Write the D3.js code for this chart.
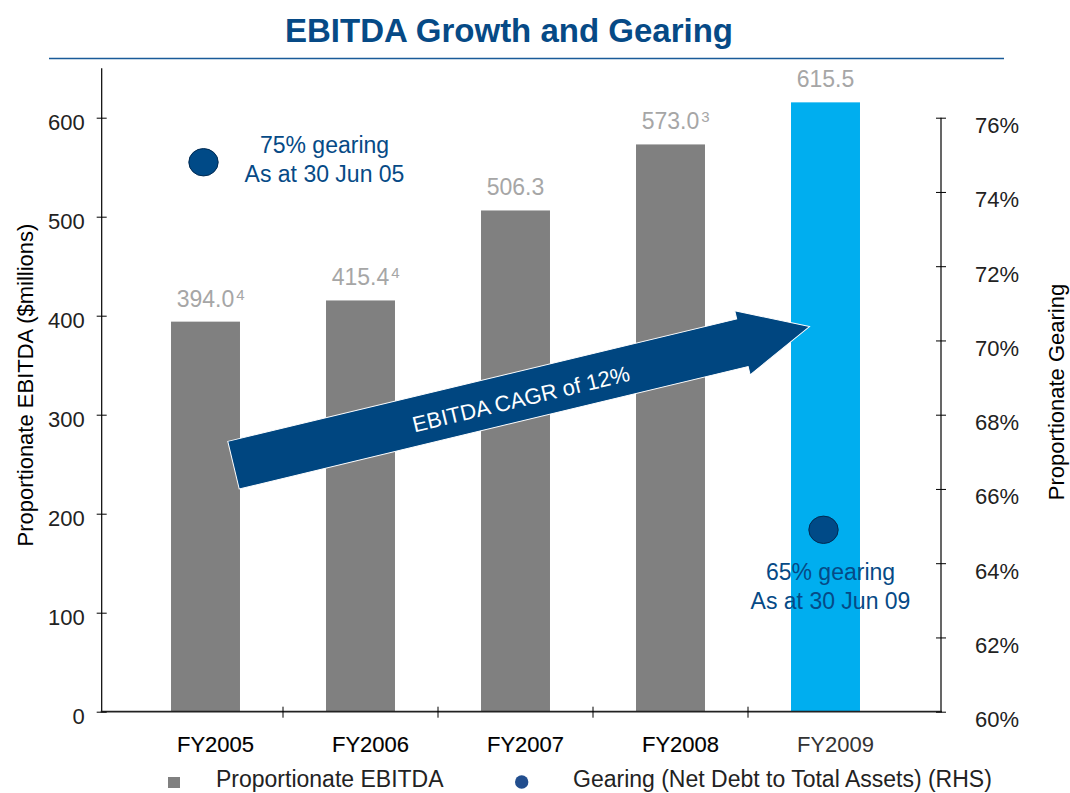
<!DOCTYPE html>
<html>
<head>
<meta charset="utf-8">
<script src="https://d3js.org/d3.v7.min.js"></script>
<style>
  body { margin: 0; background: #fff; }
  svg { display: block; font-family: "Liberation Sans", Arial, sans-serif; }
</style>
</head>
<body>
<svg id="chart" width="1070" height="793"></svg>
<script>
// data
var years = ["FY2005", "FY2006", "FY2007", "FY2008", "FY2009"];
var ebitda = [394.0, 415.4, 506.3, 573.0, 615.5];
var footnotes = ["4", "4", "", "3", ""];
var leftTicks = [0, 100, 200, 300, 400, 500, 600];
var rightTicks = [0.60, 0.62, 0.64, 0.66, 0.68, 0.70, 0.72, 0.74, 0.76];
var gearingYears = ["FY2005", "FY2009"];
var gearing = [0.748, 0.649];
var gearingNotes = [["75% gearing", "As at 30 Jun 05"], ["65% gearing", "As at 30 Jun 09"]];
var cagrLabel = "EBITDA CAGR of 12%";
var cagrFrom = 249, cagrTo = 389;   // arrow ends, in $m on left axis

var svg = d3.select("#chart"),
    left = 101.7, right = 941, bottom = 711.7;

var x = d3.scaleBand()
    .domain(years)
    .range([128, 903])
    .paddingInner(0.555)
    .paddingOuter(0.2775);

var yL = d3.scaleLinear().domain([0, 650]).range([bottom, bottom - 650 * 0.99]);
var yR = d3.scaleLinear().domain([0.60, 0.76]).range([bottom, yL(600)]);

var blue = "#064a86";

// title
svg.append("text")
    .attr("x", 509).attr("y", 42)
    .attr("text-anchor", "middle")
    .attr("font-size", 33).attr("font-weight", "bold")
    .attr("fill", blue)
    .text("EBITDA Growth and Gearing");
svg.append("line")
    .attr("x1", 49).attr("x2", 1004).attr("y1", 58.5).attr("y2", 58.5)
    .attr("stroke", "#1a5b99").attr("stroke-width", 1.5);

// bars
var bars = svg.append("g");
bars.selectAll("rect")
    .data(years)
    .join("rect")
    .attr("x", function (d) { return x(d); })
    .attr("width", x.bandwidth())
    .attr("y", function (d, i) { return yL(ebitda[i]); })
    .attr("height", function (d, i) { return bottom - yL(ebitda[i]); })
    .attr("fill", function (d, i) { return i == years.length - 1 ? "#00aeef" : "#808080"; });

// value labels + superscripts
years.forEach(function (d, i) {
    var cx = x(d) + x.bandwidth() / 2,
        cy = yL(ebitda[i]) - 15;
    var t = svg.append("text")
        .attr("x", cx).attr("y", cy)
        .attr("text-anchor", "middle")
        .attr("font-size", 23).attr("fill", "#a6a6a6")
        .text(ebitda[i].toFixed(1));
    if (footnotes[i]) {
        var w = t.node().getComputedTextLength();
        svg.append("text")
            .attr("x", cx + w / 2 + 2).attr("y", cy - 7)
            .attr("font-size", 15).attr("fill", "#a6a6a6")
            .text(footnotes[i]);
    }
});

// axes lines
svg.append("line").attr("x1", left).attr("x2", left).attr("y1", yL(650)).attr("y2", bottom)
    .attr("stroke", "#000").attr("stroke-width", 1.2);
svg.append("line").attr("x1", right).attr("x2", right).attr("y1", yR(0.76)).attr("y2", bottom)
    .attr("stroke", "#000").attr("stroke-width", 1.2);
svg.append("line").attr("x1", left - 1).attr("x2", right + 1).attr("y1", bottom).attr("y2", bottom)
    .attr("stroke", "#222").attr("stroke-width", 1.8);

// left axis
var gl = svg.append("g").attr("transform", "translate(" + left + ",0)")
    .call(d3.axisLeft(yL).tickValues(leftTicks).tickSizeOuter(0).tickSizeInner(5).tickPadding(12));
gl.select(".domain").remove();
gl.selectAll(".tick line").attr("x1", 5).attr("x2", -5).attr("stroke", "#000");
gl.selectAll(".tick text")
    .attr("font-size", 22).attr("font-family", null).attr("fill", "#222").attr("dy", "0.72em")
    .attr("y", -4);

// right axis
var gr = svg.append("g").attr("transform", "translate(" + right + ",0)")
    .call(d3.axisRight(yR).tickValues(rightTicks).tickFormat(d3.format(".0%"))
        .tickSizeOuter(0).tickSizeInner(5).tickPadding(29));
gr.select(".domain").remove();
gr.selectAll(".tick line").attr("x1", -5).attr("x2", 5).attr("stroke", "#000");
gr.selectAll(".tick text")
    .attr("font-size", 22).attr("font-family", null).attr("fill", "#222").attr("dy", "0.72em")
    .attr("y", -1);

// category ticks + labels
var step = x.step(), gap = step - x.bandwidth();
svg.selectAll(".xtick")
    .data(years.slice(1))
    .join("line")
    .attr("x1", function (d) { return x(d) - gap / 2; })
    .attr("x2", function (d) { return x(d) - gap / 2; })
    .attr("y1", bottom - 5).attr("y2", bottom + 6)
    .attr("stroke", "#000");
svg.selectAll(".xlab")
    .data(years)
    .join("text")
    .attr("x", function (d) { return x(d) + x.bandwidth() / 2 + 10; })
    .attr("y", 752)
    .attr("text-anchor", "middle")
    .attr("font-size", 22)
    .attr("fill", function (d, i) { return i == years.length - 1 ? "#333" : "#000"; })
    .attr("stroke", function (d, i) { return i == years.length - 1 ? "none" : "#000"; })
    .attr("stroke-width", 0.15)
    .text(function (d) { return d; });

// axis titles
svg.append("text")
    .attr("transform", "translate(33,385) rotate(-90)")
    .attr("text-anchor", "middle").attr("font-size", 22).attr("fill", "#000")
    .text("Proportionate EBITDA ($millions)");
svg.append("text")
    .attr("transform", "translate(1064,392) rotate(-90)")
    .attr("text-anchor", "middle").attr("font-size", 22).attr("fill", "#000")
    .text("Proportionate Gearing");

// CAGR arrow
var x0 = x("FY2005") + x.bandwidth() / 2 + 28, y0 = yL(cagrFrom),
    x1 = x("FY2009") + x.bandwidth() / 2 - 16, y1 = yL(cagrTo);
var L = Math.hypot(x1 - x0, y1 - y0),
    ang = Math.atan2(y1 - y0, x1 - x0) * 180 / Math.PI,
    hw = 24.5, hh = 33, hl = 69;
var arrow = svg.append("g").attr("transform", "translate(" + x0 + "," + y0 + ") rotate(" + ang + ")");
arrow.append("path")
    .attr("d", d3.line()([[0, -hw], [L - hl, -hw], [L - hl, -hh], [L, 0], [L - hl, hh], [L - hl, hw], [0, hw]]) + "Z")
    .attr("fill", "#004680").attr("stroke", "#fff").attr("stroke-width", 1);
arrow.append("text")
    .attr("x", 295).attr("y", 3)
    .attr("text-anchor", "middle").attr("dominant-baseline", "central")
    .attr("font-size", 22).attr("fill", "#fff")
    .text(cagrLabel);

// gearing points + notes
var notePos = [{ dx: 119, dy: -9 }, { dx: 5, dy: 50 }];
gearingYears.forEach(function (d, i) {
    var cx = x(d) + x.bandwidth() / 2 - 2, cy = yR(gearing[i]);
    svg.append("ellipse")
        .attr("cx", cx).attr("cy", cy).attr("rx", 14.7).attr("ry", 13.7)
        .attr("fill", "#004a87").attr("stroke", "#002a52").attr("stroke-width", 1);
    svg.append("text")
        .attr("text-anchor", "middle").attr("font-size", 23).attr("fill", blue)
        .selectAll("tspan")
        .data(gearingNotes[i])
        .join("tspan")
        .attr("x", cx + notePos[i].dx + 2)
        .attr("y", function (t, j) { return cy + notePos[i].dy + j * 29; })
        .text(function (t) { return t; });
});

// legend
svg.append("rect").attr("x", 168).attr("y", 777).attr("width", 12).attr("height", 11).attr("fill", "#808080");
svg.append("text").attr("x", 216).attr("y", 787).attr("font-size", 23).attr("fill", "#222")
    .text("Proportionate EBITDA");
svg.append("circle").attr("cx", 521.7).attr("cy", 782).attr("r", 6.7).attr("fill", "#224e8e");
svg.append("text").attr("x", 573).attr("y", 787).attr("font-size", 23).attr("fill", "#222")
    .text("Gearing (Net Debt to Total Assets) (RHS)");
</script>
</body>
</html>
